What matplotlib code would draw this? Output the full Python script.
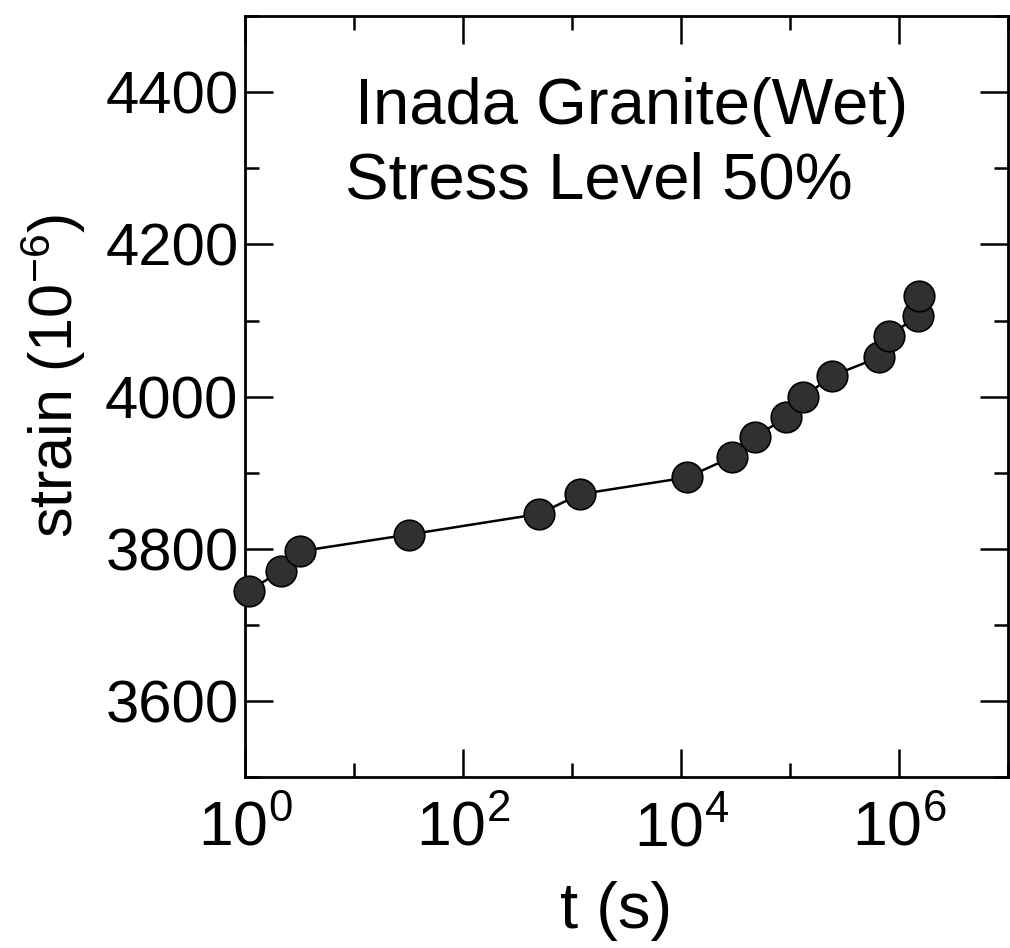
import matplotlib
matplotlib.use("Agg")
import matplotlib.pyplot as plt
from matplotlib.ticker import NullFormatter

plt.rcParams["font.family"] = ["Liberation Sans", "DejaVu Sans"]
plt.rcParams["mathtext.default"] = "regular"

# creep data
t_s = [1.07, 2.12, 3.17, 31.7, 496, 1180, 11300, 29400, 47600, 91800,
       131000, 240000, 657000, 810000, 1.48e6, 1.51e6]
strain = [3745, 3771, 3797, 3819, 3846, 3872, 3894, 3921, 3947, 3973,
          3999, 4027, 4052, 4080, 4106, 4132]

x_major = [1, 1e2, 1e4, 1e6]
x_major_labels = ["$10^{0}$", "$10^{2}$", "$10^{4}$", "$10^{6}$"]
x_minor = [1e1, 1e3, 1e5, 1e7]
y_major = [3600, 3800, 4000, 4200, 4400]
y_minor = [3500, 3700, 3900, 4100, 4300, 4500]

fig = plt.figure(figsize=(10.10, 9.48), dpi=100)
ax = fig.add_axes([0.243, 0.180, 0.755, 0.803])

ax.plot(t_s, strain, color="black", lw=1.8, zorder=2)
ax.plot(t_s, strain, "o", ms=22, mfc="#303030", mec="black", mew=1.2,
        zorder=3, clip_on=False)

ax.set_xscale("log")
ax.set_xlim(1, 1e7)
ax.set_ylim(3500, 4500)

ax.set_xticks(x_major)
ax.set_xticklabels(x_major_labels)
ax.set_xticks(x_minor, minor=True)
ax.xaxis.set_minor_formatter(NullFormatter())
ax.set_yticks(y_major)
ax.set_yticks(y_minor, minor=True)

ax.tick_params(which="both", direction="in", top=True, right=True,
               width=1.8)
ax.tick_params(which="major", length=20)
ax.tick_params(which="minor", length=10)
ax.tick_params(axis="y", labelsize=43, pad=5)
ax.tick_params(axis="x", labelsize=45, pad=16)

for s in ax.spines.values():
    s.set_linewidth(2)

ax.set_xlabel("t (s)", fontsize=47, labelpad=16)
ax.set_ylabel("strain (10$^{-6}$)", fontsize=44, labelpad=12)
ax.xaxis.label.set_x(0.486)
ax.yaxis.label.set_y(0.527)

ax.text(0.144, 0.92, "Inada Granite(Wet)", transform=ax.transAxes,
        fontsize=47, va="top", ha="left")
ax.text(0.13, 0.822, "Stress Level 50%", transform=ax.transAxes,
        fontsize=47, va="top", ha="left")

fig.savefig("out.png", dpi=100)
